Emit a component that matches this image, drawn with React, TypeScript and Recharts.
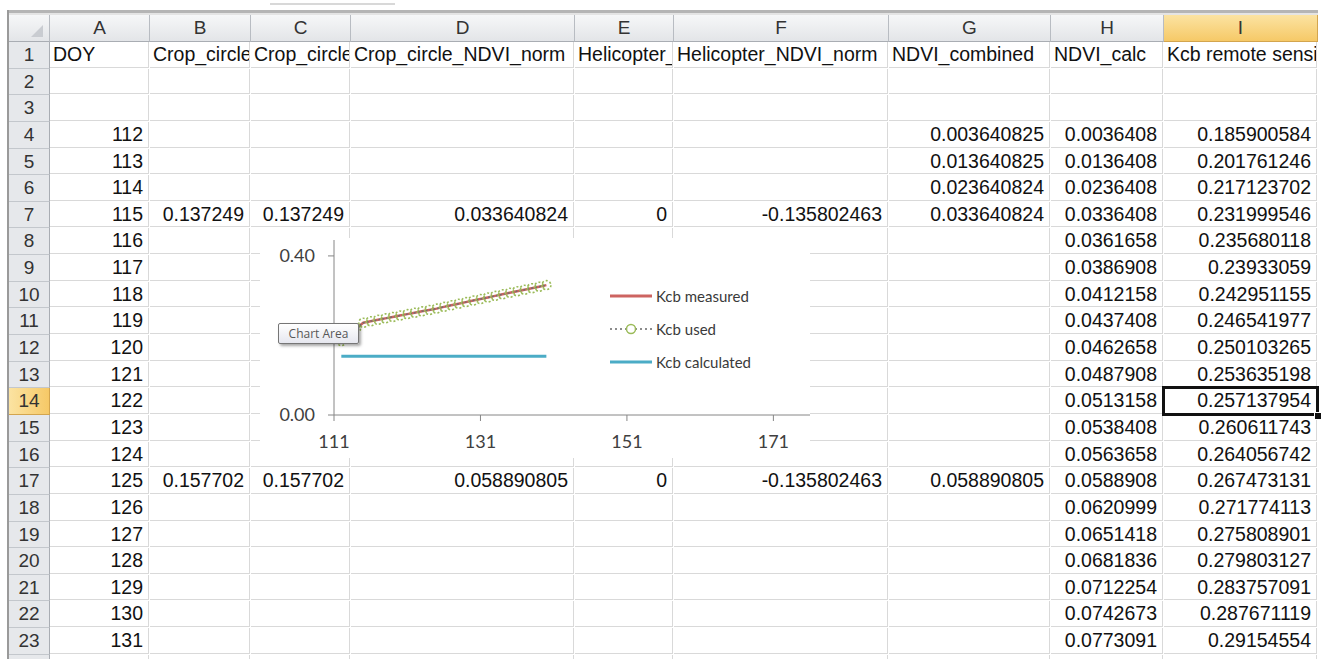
import { LineChart, Line, XAxis, YAxis, Legend } from 'recharts'

// chart series (DOY 112..140)
const doy = [112, 113, 114, 115, 116, 117, 118, 119, 120, 121, 122, 123, 124, 125, 126, 127, 128, 129, 130, 131, 132, 133, 134, 135, 136, 137, 138, 139, 140]
const kcbUsed = [0.1859, 0.2018, 0.2171, 0.232, 0.2357, 0.2393, 0.243, 0.2465, 0.2501, 0.2536, 0.2571, 0.2606, 0.2641, 0.2675, 0.2718, 0.2758, 0.2798, 0.2838, 0.2877, 0.2915, 0.2955, 0.2995, 0.3035, 0.3073, 0.3112, 0.315, 0.3188, 0.3226, 0.3265]
const kcbMeasured = [0.1859, 0.2018, 0.2171, 0.232, 0.2357, 0.2393, 0.243, 0.2465, 0.2501, 0.2536, 0.2571, 0.2606, 0.2641, 0.2675, 0.2718, 0.2758, 0.2798, 0.2838, 0.2877, 0.2915, 0.2955, 0.2995, 0.3035, 0.3073, 0.3112, 0.315, 0.3188, 0.3226, 0.3265]
const kcbCalculated = [0.148, 0.148, 0.148, 0.148, 0.148, 0.148, 0.148, 0.148, 0.148, 0.148, 0.148, 0.148, 0.148, 0.148, 0.148, 0.148, 0.148, 0.148, 0.148, 0.148, 0.148, 0.148, 0.148, 0.148, 0.148, 0.148, 0.148, 0.148, 0.148]
const xTicks = [111, 131, 151, 171]
const yTicks = [0, 0.4]
const legendOrder = ['measured', 'used', 'calculated']

// worksheet contents
const colLetters = ['A', 'B', 'C', 'D', 'E', 'F', 'G', 'H', 'I']
const headerTitles = ['DOY', 'Crop_circle_NDVI', 'Crop_circle_NDVI_raw', 'Crop_circle_NDVI_norm', 'Helicopter_NDVI', 'Helicopter_NDVI_norm', 'NDVI_combined', 'NDVI_calc', 'Kcb remote sensing']
const sheetDoy = ['112', '113', '114', '115', '116', '117', '118', '119', '120', '121', '122', '123', '124', '125', '126', '127', '128', '129', '130', '131']
const cropCircle: Record<number, string> = { 7: '0.137249', 17: '0.157702' }
const cropCircleNorm: Record<number, string> = { 7: '0.033640824', 17: '0.058890805' }
const helicopter: Record<number, string> = { 7: '0', 17: '0' }
const helicopterNorm: Record<number, string> = { 7: '-0.135802463', 17: '-0.135802463' }
const ndviCombined: Record<number, string> = { 4: '0.003640825', 5: '0.013640825', 6: '0.023640824', 7: '0.033640824', 17: '0.058890805' }
const ndviCalc = ['0.0036408', '0.0136408', '0.0236408', '0.0336408', '0.0361658', '0.0386908', '0.0412158', '0.0437408', '0.0462658', '0.0487908', '0.0513158', '0.0538408', '0.0563658', '0.0588908', '0.0620999', '0.0651418', '0.0681836', '0.0712254', '0.0742673', '0.0773091']
const kcbRemoteSensing = ['0.185900584', '0.201761246', '0.217123702', '0.231999546', '0.235680118', '0.23933059', '0.242951155', '0.246541977', '0.250103265', '0.253635198', '0.257137954', '0.260611743', '0.264056742', '0.267473131', '0.271774113', '0.275808901', '0.279803127', '0.283757091', '0.287671119', '0.29154554']

const data = doy.map((d, i) => ({
  doy: d,
  measured: kcbMeasured[i],
  used: kcbUsed[i],
  calculated: kcbCalculated[i],
}))

// sheet geometry
const colEdges = [50, 150, 251, 351, 575, 674, 889, 1051, 1164, 1318]
const HEADER_TOP = 15
const ROW_TOP = 42
const ROW_H = 26.64
const GRID = '#d9d9d9'
const SHEET_FONT = '"Liberation Sans", Arial, sans-serif'
const CHART_FONT = 'Lato, "Open Sans", sans-serif'

const rowTop = (r: number) => Math.round(ROW_TOP + (r - 1) * ROW_H)

function cellText(r: number, c: number): string {
  if (r === 1) return headerTitles[c]
  if (r < 4 || r > 23) return ''
  const i = r - 4
  switch (c) {
    case 0: return sheetDoy[i]
    case 1: return cropCircle[r] ?? ''
    case 2: return cropCircle[r] ?? ''
    case 3: return cropCircleNorm[r] ?? ''
    case 4: return helicopter[r] ?? ''
    case 5: return helicopterNorm[r] ?? ''
    case 6: return ndviCombined[r] ?? ''
    case 7: return ndviCalc[i]
    case 8: return kcbRemoteSensing[i]
  }
  return ''
}

function Sheet() {
  const cells = []
  const rows = Array.from({ length: 24 }, (_, k) => k + 1)
  // column headers
  colLetters.forEach((l, c) => {
    const sel = l === 'I'
    cells.push(
      <div key={'h' + l} style={{
        position: 'absolute', left: colEdges[c], top: HEADER_TOP, width: colEdges[c + 1] - colEdges[c] - 1,
        height: ROW_TOP - HEADER_TOP - 1, borderRight: '1px solid ' + (sel ? '#d3a54e' : '#b8bcc2'),
        borderBottom: '1px solid ' + (sel ? '#d3a54e' : '#a9adb3'),
        background: sel ? 'linear-gradient(#fbe3a2, #f6c967)' : 'linear-gradient(#f6f7f8, #e3e5e8)',
        textAlign: 'center', lineHeight: ROW_TOP - HEADER_TOP - 1 + 'px', fontSize: 19, color: '#333', fontFamily: SHEET_FONT,
      }}>{l}</div>
    )
  })
  // corner
  cells.push(
    <div key="corner" style={{
      position: 'absolute', left: 9, top: HEADER_TOP, width: 40, height: ROW_TOP - HEADER_TOP - 1,
      borderRight: '1px solid #b8bcc2', borderBottom: '1px solid #a9adb3', background: 'linear-gradient(#f6f7f8, #e3e5e8)',
    }}>
      <svg width={40} height={26} style={{ position: 'absolute', left: 0, top: 0 }}>
        <polygon points="34,10 34,22 22,22" fill="#c9ccd1" />
      </svg>
    </div>
  )
  rows.forEach((r) => {
    const top = rowTop(r)
    const h = rowTop(r + 1) - top
    const sel = r === 14
    cells.push(
      <div key={'r' + r} style={{
        position: 'absolute', left: 9, top, width: 40, height: h - 1,
        borderRight: '1px solid ' + (sel ? '#d3a54e' : '#a9adb3'), borderBottom: '1px solid ' + (sel ? '#d3a54e' : '#c3c7cc'),
        background: sel ? 'linear-gradient(90deg, #fbe3a2, #f6c967)' : '#e6e8eb',
        textAlign: 'center', lineHeight: h - 1 + 'px', fontSize: 19, color: '#333', fontFamily: SHEET_FONT,
      }}>{r}</div>
    )
    colLetters.forEach((_, c) => {
      const txt = cellText(r, c)
      const right = r > 1 && txt !== ''
      cells.push(
        <div key={'c' + r + '_' + c} style={{
          position: 'absolute', left: colEdges[c], top, width: colEdges[c + 1] - colEdges[c] - 1, height: h - 1,
          borderRight: '1px solid ' + GRID, borderBottom: '1px solid ' + GRID, overflow: 'hidden', whiteSpace: 'nowrap',
          fontSize: 19.5, lineHeight: h - 2 + 'px', color: '#111', fontFamily: SHEET_FONT,
          textAlign: right ? 'right' : 'left', paddingLeft: right ? 0 : 3, paddingRight: right ? 5 : 0, boxSizing: 'border-box',
        }}>{txt}</div>
      )
    })
  })
  return <>{cells}</>
}

function KcbLegend({ payload }: any) {
  const items = [...(payload || [])].sort(
    (a: any, b: any) => legendOrder.indexOf(a.dataKey) - legendOrder.indexOf(b.dataKey)
  )
  return (
    <div style={{ fontFamily: CHART_FONT, fontSize: 15, color: '#3a3a3a' }}>
      {items.map((p: any) => (
        <div key={p.value} style={{ display: 'flex', alignItems: 'center', height: 33 }}>
          <svg width={46} height={12}>
            {p.dataKey === 'used' ? (
              <>
                <line x1={0} y1={6} x2={42} y2={6} stroke="#8c8c8c" strokeWidth={2} strokeDasharray="2 3" />
                <circle cx={21} cy={6} r={4.5} fill="white" stroke="#9bbb59" strokeWidth={1.5} />
              </>
            ) : (
              <line x1={0} y1={6} x2={42} y2={6} stroke={p.color} strokeWidth={3} />
            )}
          </svg>
          <span>{p.value}</span>
        </div>
      ))}
    </div>
  )
}

export default function App() {
  return (
    <div style={{ position: 'absolute', left: 0, top: 0, width: 1330, height: 659, overflow: 'hidden', background: '#fff' }}>
      {/* window chrome above the grid */}
      <div style={{ position: 'absolute', left: 270, top: 3, width: 125, height: 2, background: '#d8d8d8' }} />
      <div style={{ position: 'absolute', left: 8, top: 10, width: 1310, height: 3, background: '#b5b5b5' }} />
      <div style={{ position: 'absolute', left: 8, top: 13, width: 1310, height: 2, background: '#e4e4e4' }} />
      <div style={{ position: 'absolute', left: 7, top: 10, width: 2, height: 649, background: '#9a9a9a' }} />
      <Sheet />
      {/* active cell I14 */}
      <div style={{
        position: 'absolute', left: 1162, top: rowTop(14) - 2, width: 157, height: rowTop(15) - rowTop(14) + 3,
        border: '3px solid #111', boxSizing: 'border-box',
      }} />
      <div style={{ position: 'absolute', left: 1314, top: rowTop(15) - 3, width: 6, height: 6, background: '#111', border: '1px solid #fff' }} />

      <div style={{ position: 'absolute', left: 260, top: 238, width: 550, height: 220, background: '#fff' }}>
        <LineChart width={550} height={220} data={data} margin={{ top: 2, right: 0, left: 0, bottom: 0 }}>
          <XAxis
            type="number"
            dataKey="doy"
            domain={[111, 176]}
            ticks={xTicks}
            allowDataOverflow
            height={43}
            tickSize={6}
            tickMargin={14}
            axisLine={{ stroke: '#868686' }}
            tickLine={{ stroke: '#868686' }}
            tick={{ fontSize: 18, fill: '#404040', fontFamily: CHART_FONT }}
          />
          <YAxis
            type="number"
            domain={[0, 0.44]}
            ticks={yTicks}
            allowDataOverflow
            width={74}
            tickSize={6}
            tickMargin={13}
            tickFormatter={(v: number) => v.toFixed(2)}
            axisLine={{ stroke: '#868686' }}
            tickLine={{ stroke: '#868686' }}
            tick={{ fontSize: 18, fill: '#404040', fontFamily: CHART_FONT }}
          />
          <Legend
            layout="vertical"
            align="center"
            verticalAlign="middle"
            wrapperStyle={{ left: 350, top: 41, width: 200 }}
            content={<KcbLegend />}
          />
          <Line
            type="linear"
            dataKey="measured"
            name="Kcb measured"
            stroke="#cd6461"
            strokeWidth={2.5}
            dot={false}
            isAnimationActive={false}
          />
          <Line
            type="linear"
            dataKey="used"
            name="Kcb used"
            stroke="#6f6f6f"
            strokeWidth={1.5}
            strokeDasharray="2 2"
            dot={{ r: 4.5, stroke: '#9bbb59', strokeWidth: 1.6, fill: 'none' }}
            isAnimationActive={false}
          />
          <Line
            type="linear"
            dataKey="calculated"
            name="Kcb calculated"
            stroke="#4bacc6"
            strokeWidth={3}
            dot={false}
            isAnimationActive={false}
          />
        </LineChart>
      </div>

      {/* hover tooltip left over from the screenshot */}
      <div style={{
        position: 'absolute', left: 278, top: 323, width: 81, height: 21, boxSizing: 'border-box',
        border: '1px solid #767676', borderRadius: 2, background: 'linear-gradient(#ffffff, #e6e7ef)',
        boxShadow: '2px 2px 3px rgba(0,0,0,0.35)', fontFamily: '"Open Sans", sans-serif', fontSize: 12,
        color: '#575757', lineHeight: '19px', textAlign: 'center',
      }}>Chart Area</div>
    </div>
  )
}
